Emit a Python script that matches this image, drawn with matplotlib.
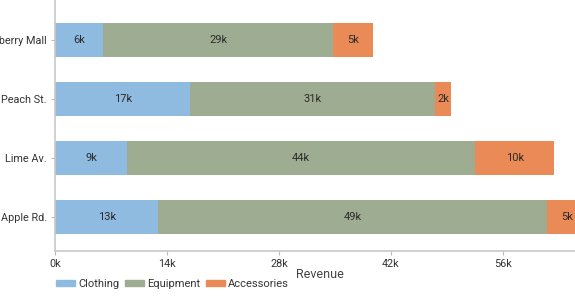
import numpy as np
import matplotlib.pyplot as plt
from matplotlib.patches import Patch

stores = ["Strawberry Mall", "Peach St.", "Lime Av.", "Apple Rd."]
clothing = [6.0, 16.9, 9.0, 12.9]
equipment = [28.8, 30.6, 43.5, 48.6]
accessories = [4.9, 2.0, 9.9, 5.0]
xticks = [0, 14, 28, 42, 56]

colors = {"Clothing": "#8fbbe1", "Equipment": "#9eac92", "Accessories": "#e98a57"}

plt.rcParams["font.family"] = ["Roboto", "DejaVu Sans"]
plt.rcParams["font.size"] = 7.8

W, H = 575, 302
fig = plt.figure(figsize=(W / 100, H / 100), dpi=100)
# axes from x=55px to the right edge, top edge to y=251px
ax = fig.add_axes([55 / W, (H - 251) / H, 1 - 55 / W, 251 / H])

y = np.arange(len(stores))
left = np.zeros(len(stores))
series = [("Clothing", clothing), ("Equipment", equipment), ("Accessories", accessories)]
for name, vals in series:
    vals = np.array(vals)
    ax.barh(y, vals, left=left, height=0.56, color=colors[name])
    for yi, l, v in zip(y, left, vals):
        ax.text(l + v / 2, yi, f"{int(round(v))}k", ha="center", va="center",
                color="#2b2b2b", fontsize=8)
    left += vals

ax.set_xlim(0, 65)
ax.set_ylim(3.576, -0.678)
ax.set_yticks(y)
ax.set_yticklabels(stores, color="#333333")
ax.set_xticks(xticks)
ax.set_xticklabels([f"{v}k" for v in xticks], color="#333333")
ax.tick_params(axis="both", length=3, color="#bbbbbb", width=0.8)
ax.tick_params(axis="x", pad=3)
ax.tick_params(axis="y", pad=3)
for s in ["top", "right"]:
    ax.spines[s].set_visible(False)
for s in ["left", "bottom"]:
    ax.spines[s].set_color("#c8c8c8")
    ax.spines[s].set_linewidth(1.2)

fig.text(320 / W, 1 - 274 / H, "Revenue", ha="center", va="center",
         fontsize=9, color="#444444")

handles = [Patch(color=colors[n]) for n, _ in series]
fig.legend(handles, [n for n, _ in series], loc="center left",
           bbox_to_anchor=(46 / W, 1 - 284 / H), ncol=3, frameon=False,
           handlelength=1.7, handleheight=0.5, handletextpad=0.3,
           columnspacing=0.5, fontsize=8, labelcolor="#333333")

fig.savefig("out.png", dpi=100)
